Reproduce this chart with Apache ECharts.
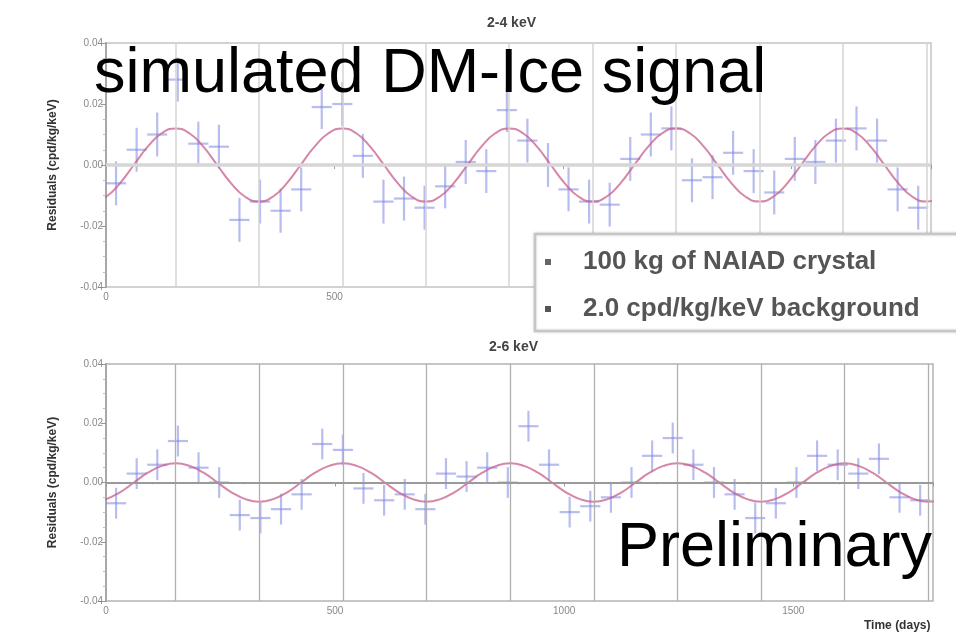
<!DOCTYPE html>
<html>
<head>
<meta charset="utf-8">
<script src="https://cdn.jsdelivr.net/npm/echarts@6/dist/echarts.min.js"></script>
<style>
html,body{margin:0;padding:0;background:#fff;}
#c{width:956px;height:636px;}
</style>
</head>
<body>
<div id="c"></div>
<script>
// ---- data ----
const binDays = [22,67,112,157,202,247,292,337,382,427,472,517,562,607,652,697,742,787,832,877,922,967,1012,1057,1102,1147,1192,1237,1282,1327,1372,1417,1462,1507,1552,1597,1642,1687,1732,1777];
const binHalfWidth = 22;
const topValues = [-0.006,0.005,0.010,0.028,0.007,0.006,-0.018,-0.012,-0.015,-0.008,0.019,0.020,0.003,-0.012,-0.011,-0.014,-0.007,0.001,-0.002,0.018,0.008,0.000,-0.008,-0.012,-0.013,0.002,0.010,0.012,-0.005,-0.004,0.004,-0.002,-0.009,0.002,0.001,0.008,0.012,0.008,-0.008,-0.014];
const topErr = 0.0072;
const bottomValues = [-0.007,0.003,0.006,0.014,0.005,0.000,-0.011,-0.012,-0.009,-0.004,0.013,0.011,-0.002,-0.006,-0.004,-0.009,0.003,0.002,0.005,0.000,0.019,0.006,-0.010,-0.008,-0.005,0.000,0.009,0.015,0.006,0.000,-0.004,-0.012,-0.007,0.000,0.009,0.006,0.003,0.008,-0.005,-0.006];
const bottomErr = 0.0052;
const curveDays = [-30.4,0,30.4,60.8,91.3,121.7,152.1,182.5,212.9,243.3,273.8,304.2,334.6,365.0,395.4,425.8,456.3,486.7,517.1,547.5,577.9,608.3,638.8,669.2,699.6,730.0,760.4,790.8,821.3,851.7,882.1,912.5,942.9,973.3,1003.8,1034.2,1064.6,1095.0,1125.4,1155.8,1186.3,1216.7,1247.1,1277.5,1307.9,1338.3,1368.8,1399.2,1429.6,1460.0,1490.4,1520.8,1551.3,1581.7,1612.1,1642.5,1672.9,1703.3,1733.8,1764.2,1794.6,1825.0];
const topCurve = [
 -0.012,-0.0104,-0.006,0,0.006,0.0104,0.012,0.0104,0.006,0,-0.006,-0.0104,
 -0.012,-0.0104,-0.006,0,0.006,0.0104,0.012,0.0104,0.006,0,-0.006,-0.0104,
 -0.012,-0.0104,-0.006,0,0.006,0.0104,0.012,0.0104,0.006,0,-0.006,-0.0104,
 -0.012,-0.0104,-0.006,0,0.006,0.0104,0.012,0.0104,0.006,0,-0.006,-0.0104,
 -0.012,-0.0104,-0.006,0,0.006,0.0104,0.012,0.0104,0.006,0,-0.006,-0.0104,
 -0.012,-0.0104];
const bottomCurve = [
 -0.0065,-0.0056,-0.0033,0,0.0033,0.0056,0.0065,0.0056,0.0033,0,-0.0033,-0.0056,
 -0.0065,-0.0056,-0.0033,0,0.0033,0.0056,0.0065,0.0056,0.0033,0,-0.0033,-0.0056,
 -0.0065,-0.0056,-0.0033,0,0.0033,0.0056,0.0065,0.0056,0.0033,0,-0.0033,-0.0056,
 -0.0065,-0.0056,-0.0033,0,0.0033,0.0056,0.0065,0.0056,0.0033,0,-0.0033,-0.0056,
 -0.0065,-0.0056,-0.0033,0,0.0033,0.0056,0.0065,0.0056,0.0033,0,-0.0033,-0.0056,
 -0.0065,-0.0056];
const gridDays = [152,335,517,700,882,1065,1247,1430,1612,1795];
const xTicks = {min:0, max:1805, interval:500};
const yTicks = {min:-0.04, max:0.04, interval:0.02};
const topTitle = '2-4 keV';
const bottomTitle = '2-6 keV';
const yName = 'Residuals (cpd/kg/keV)';
const xName = 'Time (days)';
const legendLines = ['100 kg of NAIAD crystal','2.0 cpd/kg/keV background'];

// ---- chart ----
const chart = echarts.init(document.getElementById('c'), null, {renderer:'canvas'});
const crossColor = 'rgba(125,135,225,0.55)';
const curveColor = 'rgba(200,95,140,0.75)';

function crossItem(params, api){
  const x = api.value(0), y = api.value(1), e = api.value(2), w = api.value(3);
  const l = api.coord([x-w,y]), r = api.coord([x+w,y]);
  const t = api.coord([x,y+e]), b = api.coord([x,y-e]);
  return {type:'group', children:[
    {type:'line', shape:{x1:l[0],y1:l[1],x2:r[0],y2:r[1]}, style:{stroke:crossColor,lineWidth:2.2}},
    {type:'line', shape:{x1:t[0],y1:t[1],x2:b[0],y2:b[1]}, style:{stroke:crossColor,lineWidth:2.2}}
  ]};
}
function makeCross(vals, err){ return binDays.map((d,i)=>[d, vals[i], err, binHalfWidth]); }
function makeCurve(vals){ return curveDays.map((d,i)=>[d, vals[i]]); }

function xAxisCfg(gi, showLabels){
  return {type:'value', gridIndex:gi, min:xTicks.min, max:xTicks.max, interval:xTicks.interval,
    axisLine:{lineStyle:{color:'#a8a8a8', width:2}},
    axisTick:{show:true, length:4, lineStyle:{color:'#999'}},
    minorTick:{show:true, splitNumber:5, length:2, lineStyle:{color:'#ccc'}},
    axisLabel:{show:showLabels, fontSize:10, color:'#888', margin:5, showMaxLabel:false,
      fontFamily:'Liberation Sans', formatter:v=>String(v)},
    splitLine:{show:false}};
}
function yAxisCfg(gi){
  return {type:'value', gridIndex:gi, min:yTicks.min, max:yTicks.max, interval:yTicks.interval,
    name:yName, nameLocation:'middle', nameGap:47,
    nameTextStyle:{fontSize:12, fontWeight:'bold', color:'#333', fontFamily:'Liberation Sans'},
    axisLine:{show:true, lineStyle:{color:'#a8a8a8', width:2}},
    axisTick:{show:true, length:5, lineStyle:{color:'#999'}},
    minorTick:{show:true, splitNumber:4, length:3, lineStyle:{color:'#bbb'}},
    axisLabel:{fontSize:10, color:'#888', margin:3, formatter:v=>v.toFixed(2), fontFamily:'Liberation Sans'},
    splitLine:{show:false}};
}
function gridLinesSeries(xi, yi, color, width, zeroColor, zeroWidth){
  return {type:'line', xAxisIndex:xi, yAxisIndex:yi, data:[], silent:true,
    markLine:{silent:true, symbol:['none','none'], label:{show:false}, animation:false,
      data: gridDays.map(d=>({xAxis:d, lineStyle:{color:color, width:width, type:'solid'}}))
        .concat([{yAxis:0, lineStyle:{color:zeroColor, width:zeroWidth, type:'solid'}}])}};
}

const option = {
  animation:false,
  backgroundColor:'#fff',
  grid:[
    {left:106, top:43, width:825, height:244, show:true, borderColor:'#c4c4c4', borderWidth:1.5},
    {left:106, top:364, width:827, height:237, show:true, borderColor:'#b4b4b4', borderWidth:1.5}
  ],
  xAxis:[xAxisCfg(0,true), xAxisCfg(1,true)],
  yAxis:[yAxisCfg(0), yAxisCfg(1)],
  series:[
    gridLinesSeries(0,0,'#d4d4d4',1.5,'#d6d6d6',3.5),
    gridLinesSeries(1,1,'#b0b0b0',1.3,'#9a9a9a',1.8),
    {type:'custom', xAxisIndex:0, yAxisIndex:0, renderItem:crossItem, data:makeCross(topValues, topErr), encode:{x:0,y:1}, clip:true},
    {type:'custom', xAxisIndex:1, yAxisIndex:1, renderItem:crossItem, data:makeCross(bottomValues, bottomErr), encode:{x:0,y:1}, clip:true},
    {type:'line', xAxisIndex:0, yAxisIndex:0, data:makeCurve(topCurve), smooth:0.5, showSymbol:false, clip:true,
      lineStyle:{color:curveColor, width:2}},
    {type:'line', xAxisIndex:1, yAxisIndex:1, data:makeCurve(bottomCurve), smooth:0.5, showSymbol:false, clip:true,
      lineStyle:{color:curveColor, width:2}}
  ],
  graphic:[
    {type:'text', left:487, top:16, z:100, style:{text:topTitle, font:'bold 14px "Liberation Sans"', fill:'#444'}},
    {type:'text', left:489, top:340, z:100, style:{text:bottomTitle, font:'bold 14px "Liberation Sans"', fill:'#444'}},
    {type:'text', left:864, top:620, z:100, style:{text:xName, font:'bold 12px "Liberation Sans"', fill:'#333'}},
    {type:'rect', z:100, shape:{x:535, y:234, width:440, height:97},
      style:{fill:'#fff', stroke:'#c6c6c6', lineWidth:2.5, shadowBlur:3, shadowColor:'rgba(0,0,0,0.15)'}},
    {type:'rect', z:101, shape:{x:545, y:259, width:6, height:6}, style:{fill:'#666'}},
    {type:'rect', z:101, shape:{x:545, y:306, width:6, height:6}, style:{fill:'#555'}},
    {type:'text', z:101, x:583, y:262, style:{text:legendLines[0], font:'bold 26px "Liberation Sans"', fill:'#555', verticalAlign:'middle'}},
    {type:'text', z:101, x:583, y:309, style:{text:legendLines[1], font:'bold 26px "Liberation Sans"', fill:'#555', verticalAlign:'middle'}},
    {type:'text', z:110, x:94, y:75, style:{text:'simulated DM-Ice signal', font:'63px "Liberation Sans"', fill:'#000', verticalAlign:'middle'}},
    {type:'text', z:110, x:617, y:549, style:{text:'Preliminary', font:'63px "Liberation Sans"', fill:'#000', verticalAlign:'middle'}}
  ]
};
chart.setOption(option);
</script>
</body>
</html>
